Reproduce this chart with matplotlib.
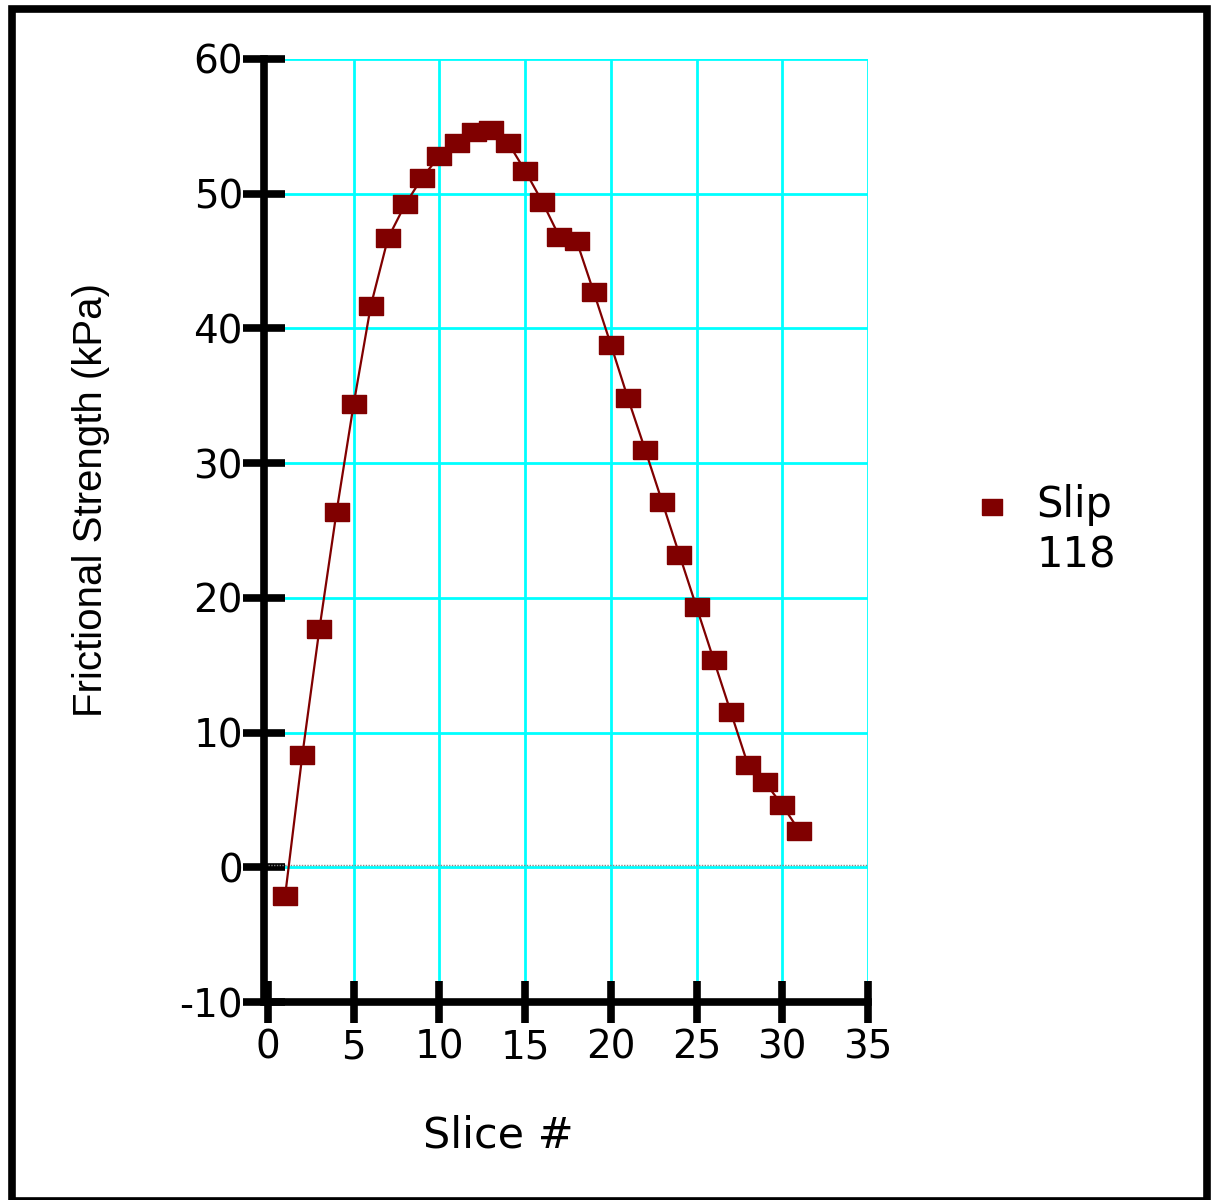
import matplotlib
matplotlib.use('Agg')
import matplotlib.pyplot as plt
import matplotlib.transforms as mtransforms
from matplotlib.patches import Rectangle

# slice number vs frictional strength
slices = list(range(1, 32))
strength = [-2.1, 8.3, 17.7, 26.4, 34.4, 41.7, 46.7, 49.2, 51.2, 52.8,
            53.8, 54.6, 54.7, 53.8, 51.7, 49.4, 46.8, 46.5, 42.7, 38.8,
            34.8, 31.0, 27.1, 23.2, 19.3, 15.4, 11.5, 7.6, 6.3, 4.6, 2.7]
x_ticks = [0, 5, 10, 15, 20, 25, 30, 35]
y_ticks = [-10, 0, 10, 20, 30, 40, 50, 60]
y_tick_labels = ['-10', '0', '10', '20', '30', '40', '50', '60']
series_name = 'Slip\n118'

W, H = 1211, 1200
fig = plt.figure(figsize=(W / 100, H / 100), dpi=100)
# the source text looks stretched sideways, DejaVu is the widest face we have
plt.rcParams['font.family'] = ['DejaVu Sans']
wide = ['DejaVu Sans']
narrow = ['Liberation Sans', 'DejaVu Sans']

# axes box in pixels of the figure
ax = fig.add_axes([268 / W, 1 - 1002 / H, 600 / W, 943 / H])
ax.set_xlim(0, 35)
ax.set_ylim(-10, 60)

# cyan grid
for xv in x_ticks[1:]:
    ax.axvline(xv, color='#00ffff', lw=2, zorder=1)
for yv in y_ticks[1:]:
    ax.axhline(yv, color='#00ffff', lw=2, zorder=1)
# dotted zero line, sits a hair above the cyan one
off = mtransforms.offset_copy(ax.transData, fig=fig, x=0, y=2, units='dots')
ax.plot([0, 35], [0, 0], color='#888888', lw=1, ls=(0, (1, 1)), transform=off, zorder=2)

# wide-ish square marker
rect_marker = [(-1.25, -1), (1.25, -1), (1.25, 1), (-1.25, 1), (-1.25, -1)]
ax.plot(slices, strength, color='#800000', lw=1.6, marker=rect_marker,
        markersize=17, markeredgecolor='#800000', zorder=3, clip_on=False)

for s in ['top', 'right']:
    ax.spines[s].set_visible(False)
for s in ['left', 'bottom']:
    ax.spines[s].set_linewidth(5.5)
    ax.spines[s].set_color('black')
ax.spines['left'].set_position(('outward', 3))
ax.spines['left'].set_capstyle('projecting')

ax.set_xticks(x_ticks)
ax.set_yticks(y_ticks)
ax.set_yticklabels(y_tick_labels)
ax.tick_params(axis='both', direction='inout', length=30, width=5.5, labelsize=28, colors='black')
ax.tick_params(axis='x', pad=4)
ax.tick_params(axis='y', pad=0)
for lab in ax.get_xticklabels() + ax.get_yticklabels():
    lab.set_family(wide)

fig.text(91 / W, 1 - 500 / H, 'Frictional Strength (kPa)', rotation=90, fontsize=29,
         ha='center', va='center', family=narrow)
fig.text(498 / W, 1 - 1135 / H, 'Slice #', fontsize=31, ha='center', va='center', family=wide)

# legend, placed by hand
lax = fig.add_axes([0, 0, 1, 1], facecolor='none')
lax.set_axis_off()
lax.set_xlim(0, W)
lax.set_ylim(H, 0)
lax.plot([992], [507], marker=rect_marker, markersize=15, color='#800000', ls='none')
lax.text(1036, 530, series_name, fontsize=30, ha='left', va='center', linespacing=1.25,
         family=wide)

# outer frame
fig.patches.append(Rectangle((11.5 / W, 1 - 1200.5 / H), (1207 - 11.5) / W, (1200.5 - 8.5) / H,
                             transform=fig.transFigure, fill=False, lw=5.5,
                             edgecolor='black', zorder=10))

fig.savefig('out.png', dpi=100)
